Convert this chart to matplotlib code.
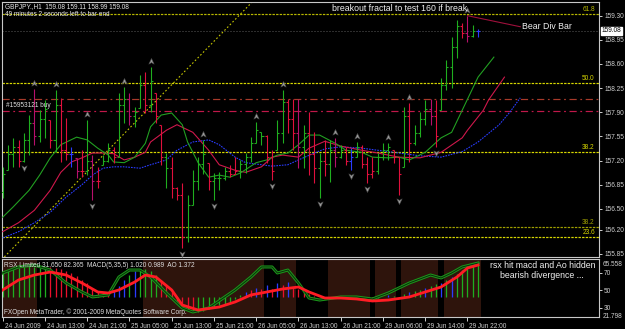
import matplotlib
matplotlib.use('Agg')
import matplotlib.pyplot as plt
from matplotlib.path import Path
import matplotlib.transforms as mtransforms
from matplotlib import font_manager

plt.rcParams['font.family'] = ['Liberation Sans', 'DejaVu Sans']
_names = {f.name for f in font_manager.fontManager.ttflist}
if 'Liberation Sans Narrow' in _names:
    NARROW = ['Liberation Sans Narrow', 'DejaVu Sans']
    SMALL = 5.3
else:
    NARROW = ['Liberation Sans', 'DejaVu Sans']
    SMALL = 4.7

# ---------------- data ----------------
symbol_header = "GBPJPY.,H1  159.08 159.11 158.99 159.08"
timer_text = "49 minutes 2 seconds left to bar end"

first_open = 156.75
highs = [157.11, 157.43, 157.53, 157.50, 157.60, 157.86, 158.24, 157.93, 158.08, 157.79,
         158.22, 158.11, 157.82, 157.40, 157.24, 157.35, 157.79, 157.28, 157.11, 157.28,
         157.45, 157.40, 158.18, 158.27, 158.18, 157.98, 158.44, 158.48, 158.56, 158.18,
         157.72, 157.31, 157.25, 156.82, 156.88, 156.70, 157.06, 157.25, 157.50, 157.16,
         157.02, 157.03, 157.11, 157.14, 157.25, 157.21, 157.31, 157.54, 157.76, 157.61,
         157.57, 157.35, 157.79, 158.22, 158.09, 158.09, 158.09, 157.72, 157.90, 157.61,
         157.31, 157.50, 157.50, 157.53, 157.43, 157.40, 157.38, 157.47, 157.43, 157.25,
         157.25, 157.31, 157.45, 157.45, 157.35, 157.25, 157.98, 158.03, 157.72, 157.90,
         158.08, 158.09, 158.08, 158.40, 158.66, 158.99, 159.24, 159.19, 159.30, 159.16,
         159.11]
lows = [156.66, 157.06, 157.11, 157.11, 157.18, 157.28, 157.43, 157.47, 157.53, 157.38,
        157.32, 157.18, 157.21, 157.11, 156.95, 156.96, 156.99, 156.63, 156.80, 157.14,
        157.18, 157.16, 157.25, 157.75, 157.72, 157.69, 157.96, 157.89, 157.90, 157.75,
        157.14, 156.80, 156.66, 156.63, 155.93, 156.02, 156.56, 156.77, 157.00, 156.77,
        156.63, 156.77, 156.92, 156.96, 157.00, 156.95, 157.02, 157.18, 157.45, 157.43,
        157.16, 156.92, 157.35, 157.45, 157.60, 157.35, 157.09, 157.09, 156.99, 156.88,
        156.66, 156.98, 156.89, 157.11, 157.24, 157.14, 157.06, 157.25, 157.09, 156.88,
        156.95, 157.00, 157.21, 157.21, 157.16, 156.70, 157.11, 157.18, 157.43, 157.54,
        157.72, 157.72, 157.40, 157.93, 158.22, 158.25, 158.69, 158.98, 158.92, 158.99,
        158.99]
closes = [157.00, 157.30, 157.40, 157.20, 157.50, 157.75, 157.55, 157.80, 157.95, 157.50,
          158.00, 157.35, 157.30, 157.30, 157.05, 157.05, 157.20, 156.90, 156.90, 157.20,
          157.35, 157.25, 158.00, 158.10, 157.85, 157.90, 158.30, 158.00, 158.35, 157.85,
          157.25, 157.10, 156.80, 156.70, 156.10, 156.55, 156.90, 157.15, 157.30, 156.90,
          156.95, 156.95, 157.05, 157.00, 157.05, 157.15, 157.25, 157.45, 157.65, 157.55,
          157.25, 157.05, 157.60, 158.05, 157.80, 157.60, 157.40, 157.60, 157.30, 157.10,
          157.20, 157.15, 157.35, 157.25, 157.35, 157.20, 157.25, 157.40, 157.15, 157.00,
          157.05, 157.25, 157.35, 157.40, 157.25, 157.00, 157.85, 157.45, 157.60, 157.80,
          157.95, 157.85, 157.55, 158.30, 158.55, 158.85, 159.15, 159.05, 159.00, 159.08,
          159.08]
bar_codes = list("gggrggmggr" "grrbmrgmrg" "grggmggrgr" "rgrrrggggr" "gggrrggggg"
                 "rrggrrmgrr" "grgmgrbgrr" "rgggrrgrgg" "gmrggggrmg" "b")

# Alligator-like shifted moving averages (bar index, price)
lips_x = [0, 2, 5, 7, 9, 11, 14, 16, 18, 20, 21, 23, 25, 27, 28, 30, 32, 34, 35, 37, 39, 41, 43,
          45, 48, 50, 52, 54, 56, 58, 60, 61, 63, 65, 68, 70, 73, 75, 77, 80, 83, 85, 87, 90, 93]
lips_y = [156.38, 156.53, 156.77, 156.99, 157.24, 157.43, 157.54, 157.50, 157.38, 157.28,
          157.18, 157.17, 157.25, 157.45, 157.69, 157.86, 157.89, 157.72, 157.47, 157.17,
          156.96, 156.99, 156.96, 157.02, 157.17, 157.21, 157.28, 157.31, 157.43, 157.57,
          157.57, 157.53, 157.45, 157.35, 157.32, 157.25, 157.24, 157.25, 157.21, 157.32,
          157.53, 157.61, 157.93, 158.41, 158.70]
teeth_x = [0, 3, 6, 9, 11, 13, 15, 17, 19, 21, 23, 25, 27, 28, 31, 33, 36, 39, 41, 44, 46, 49,
           51, 53, 56, 58, 61, 64, 68, 71, 75, 79, 83, 87, 88, 91, 92, 95]
teeth_y = [156.17, 156.30, 156.48, 156.77, 157.03, 157.18, 157.24, 157.31, 157.31, 157.30,
           157.21, 157.25, 157.32, 157.47, 157.64, 157.72, 157.61, 157.35, 157.14, 157.06,
           157.03, 157.11, 157.25, 157.28, 157.25, 157.38, 157.48, 157.41, 157.35, 157.31,
           157.25, 157.24, 157.32, 157.53, 157.64, 157.93, 158.08, 158.41]
jaw_x = [0, 3, 6, 9, 12, 15, 17, 19, 21, 23, 26, 28, 31, 33, 36, 39, 41, 44, 46, 49, 51, 54,
         56, 59, 61, 64, 68, 73, 79, 83, 87, 90, 94, 96, 98]
jaw_y = [156.08, 156.17, 156.30, 156.45, 156.67, 156.85, 156.99, 157.09, 157.11, 157.11,
         157.09, 157.14, 157.21, 157.35, 157.47, 157.50, 157.43, 157.25, 157.17, 157.14,
         157.12, 157.14, 157.21, 157.31, 157.37, 157.40, 157.38, 157.33, 157.27, 157.25,
         157.33, 157.47, 157.72, 157.90, 158.11]

up_fractals = [6, 10, 16, 23, 28, 38, 48, 53, 63, 67, 73, 77, 88]
down_fractals = [4, 17, 34, 40, 51, 60, 66, 69, 75, 82]

# horizontal levels
fib_levels = [159.32, 158.32, 157.32, 156.24, 156.09]
fib_labels = ["61.8", "50.0", "38.2", "38.2", "23.6"]
fib_colors = ["#b8b800", "#d8d800", "#d8d800", "#a0a000", "#d8d800"]
order_level = 157.92
order_label = "#15953121 buy"
tp_level = 158.09
bid_price = 159.08
trend_p1 = (0, 155.78)
trend_p2 = (47, 159.48)
bear_div_p1 = (88, 159.30)
bear_div_p2 = (98, 159.14)

price_ticks = [159.30, 158.95, 158.60, 158.25, 157.90, 157.55, 157.20, 156.85, 156.50, 156.20, 155.85]

time_tick_bars = [0, 8, 16, 24, 32, 40, 48, 56, 64, 72, 80, 88]
time_tick_labels = ["24 Jun 2009", "24 Jun 13:00", "24 Jun 21:00", "25 Jun 05:00",
                    "25 Jun 13:00", "25 Jun 21:00", "26 Jun 05:00", "26 Jun 13:00",
                    "26 Jun 21:00", "29 Jun 06:00", "29 Jun 14:00", "29 Jun 22:00"]

# indicator window
rsx_x = [0, 3, 6, 9, 12, 15, 18, 20, 22, 25, 27, 29, 32, 34, 37, 41, 44, 47, 50, 53, 56, 58, 61,
         64, 67, 70, 73, 77, 80, 83, 86, 88, 90]
rsx_y = [50.6, 62.0, 67.7, 71.1, 67.7, 58.6, 48.3, 47.1, 50.6, 59.7, 67.7, 65.4, 50.6, 33.4,
         27.7, 31.1, 36.9, 44.9, 48.3, 51.7, 54.0, 48.3, 41.4, 41.4, 40.3, 38.0, 39.1, 42.6,
         48.3, 54.0, 65.4, 75.7, 79.1]
sig_x = [0, 3, 6, 9, 12, 15, 17, 20, 22, 24, 26, 28, 31, 34, 36, 39, 44, 47, 49, 51, 52, 54, 56,
         58, 60, 64, 67, 70, 73, 77, 81, 83, 85, 87, 90]
sig_y = [70.0, 76.9, 79.1, 73.4, 58.6, 48.3, 42.6, 44.9, 65.4, 73.4, 73.4, 65.4, 47.1, 30.0,
         25.4, 30.0, 50.6, 65.4, 76.9, 76.9, 70.0, 73.4, 58.6, 41.4, 39.1, 42.6, 42.6, 40.3,
         47.1, 58.6, 67.7, 64.3, 70.0, 76.9, 81.4]
hist_vals = [70, 72, 75, 76, 77, 78, 77, 76, 74, 77,
             76, 74, 72, 70, 66, 62, 58, 53, 49, 47,
             46, 50, 55, 62, 68, 72, 74, 74, 72, 68,
             62, 55, 48, 38, 33, 28, 25, 25, 27, 29,
             31, 33, 35, 37, 40, 45, 48, 50, 53, 52,
             56, 52, 58, 56, 60, 54, 52, 48, 46, 44,
             42, 40, 41, 43, 42, 44, 42, 44, 43, 41,
             40, 41, 43, 45, 44, 43, 46, 48, 49, 51,
             53, 55, 57, 59, 62, 65, 69, 73, 77, 80,
             82]
hist_codes = list("gggggggggr" "rrrrrrrrrr" "rbbbgbgggg" "rrrrrrrggg" "ggggggbrbr"
                  "brbrbrrrrr" "rrbgggbggr" "rggbgggbgg" "bggbgbgggg" "g")
hist_base = 43
shade_spans = [(0, 6), (27, 49), (53, 55), (62, 69), (71, 74), (76, 82), (84, 90)]
ind_header = "RSX Limited 31.650 82.365  MACD(5,35,5) 1.020 0.989  AO 1.372"
ind_levels = [70, 50, 30]
ind_max_label = "65.558"
ind_min_label = "21.798"
copyright_text = "FXOpen MetaTrader, \u00a9 2001-2009 MetaQuotes Software Corp."
ind_note = "rsx hit macd and Ao hidden\nbearish divergence ..."

# ---------------- figure ----------------
W, H = 625, 329
fig = plt.figure(figsize=(W / 100, H / 100), dpi=100, facecolor='black')

def fx(px):
    return px / W

def fy(py):
    return 1 - py / H

ax = fig.add_axes([fx(2), fy(257), (599 - 2) / W, (257 - 2) / H])
ax2 = fig.add_axes([fx(2), fy(317), (599 - 2) / W, (317 - 259) / H])
for a in (ax, ax2):
    a.set_facecolor('black')
    for s in a.spines.values():
        s.set_color('#c8c8c8')
        s.set_linewidth(0.8)

xlim = (-0.13, 112.9)
ax.set_xlim(*xlim)
ax.set_ylim(155.803, 159.4985)
ax2.set_xlim(*xlim)
ax2.set_ylim(19.7, 86.0)

PX = 0.72  # one pixel in points

bar_col = {'g': '#1fae1f', 'r': '#e0103c', 'm': '#b8106c', 'b': '#2a3cff'}

# horizontal lines
for lvl, lab, c in zip(fib_levels, fib_labels, fib_colors):
    ax.axhline(lvl, color=c, lw=1.2 * PX, ls=(0, (2, 1)), zorder=1)
    ax.text(0.993, lvl + 0.015, lab, transform=ax.get_yaxis_transform(), color=c,
            fontsize=SMALL, family=NARROW, ha='right', va='bottom', zorder=6)
ax.axhline(tp_level, color='#a83a2a', lw=1.2 * PX, ls=(0, (6, 3, 1.5, 3)), zorder=1)
ax.axhline(order_level, color='#c0184a', lw=1.2 * PX, ls=(0, (6, 3, 1.5, 3)), zorder=1)
ax.text(0.6, order_level + 0.035, order_label, color='#e0e0e0', fontsize=SMALL, family=NARROW,
        va='bottom', zorder=6)
ax.axhline(bid_price, color='#5a5a5a', lw=PX, ls=(0, (1, 2)), zorder=1)

# trend line
slope = (trend_p2[1] - trend_p1[1]) / (trend_p2[0] - trend_p1[0])
tx0, tx1 = -2, 52
ax.plot([tx0, tx1], [trend_p1[1] + slope * (tx0 - trend_p1[0]), trend_p1[1] + slope * (tx1 - trend_p1[0])],
        color='#c8c800', lw=1.1 * PX, ls=(0, (1.5, 2)), zorder=2)

# moving averages
ax.plot(jaw_x, jaw_y, color='#2a3cff', lw=1.1 * PX, ls=(0, (1.5, 1)), zorder=3)
ax.plot(teeth_x, teeth_y, color='#d0184c', lw=1.1 * PX, zorder=3)
ax.plot(lips_x, lips_y, color='#22a022', lw=1.1 * PX, zorder=3)

# OHLC bars
n = len(highs)
opens = [first_open] + closes[:-1]
opens[-1] = 159.08
for i in range(n):
    c = bar_col[bar_codes[i]]
    o = min(max(opens[i], lows[i]), highs[i])
    cl = min(max(closes[i], lows[i]), highs[i])
    ax.vlines(i, lows[i], highs[i], color=c, lw=1.1 * PX, zorder=4)
    ax.hlines(o, i - 0.38, i, color=c, lw=1.1 * PX, zorder=4)
    ax.hlines(cl, i, i + 0.38, color=c, lw=1.1 * PX, zorder=4)

# fractal arrows
up_path = Path([(0, 1), (0.9, -0.9), (0, -0.35), (-0.9, -0.9), (0, 1)],
               [Path.MOVETO, Path.LINETO, Path.LINETO, Path.LINETO, Path.CLOSEPOLY])
down_path = Path([(0, -1), (0.9, 0.9), (0, 0.35), (-0.9, 0.9), (0, -1)],
                 [Path.MOVETO, Path.LINETO, Path.LINETO, Path.LINETO, Path.CLOSEPOLY])
ax.scatter(up_fractals, [highs[i] + 0.085 for i in up_fractals], marker=up_path, s=18,
           facecolor='#9a9a9a', edgecolor='#505050', linewidths=0.4, zorder=5)
ax.scatter(down_fractals, [lows[i] - 0.085 for i in down_fractals], marker=down_path, s=18,
           facecolor='#9a9a9a', edgecolor='#505050', linewidths=0.4, zorder=5)

# bear div annotation
ax.plot([bear_div_p1[0], bear_div_p2[0]], [bear_div_p1[1], bear_div_p2[1]], color='#a0103c', lw=1.1 * PX, zorder=5)
ax.text(bear_div_p2[0] + 0.4, bear_div_p2[1], "Bear Div Bar", color='#f0f0f0', fontsize=6.3,
        va='center', ha='left', zorder=6)
ax.text(62.4, 159.40, "breakout fractal to test 160 if break", color='#f0f0f0', fontsize=6.3,
        va='center', ha='left', zorder=6)

# price axis
ax.set_xticks([])
ax.yaxis.tick_right()
ax.set_yticks(price_ticks)
ax.set_yticklabels([f"{p:.2f}" for p in price_ticks], family=NARROW)
ax.tick_params(axis='y', colors='#d0d0d0', labelsize=SMALL, length=2.5, width=0.7, pad=1.2)
ax.text(1.004, bid_price, f"{bid_price:.2f}", transform=ax.get_yaxis_transform(), color='black',
        fontsize=SMALL, family=NARROW, va='center', ha='left', zorder=7,
        bbox=dict(boxstyle='square,pad=0.12', facecolor='white', edgecolor='white'))

# header texts
fig.text(fx(5), fy(6.5), symbol_header, color='#e8e8e8', fontsize=SMALL, family=NARROW, va='center', ha='left')
fig.text(fx(5), fy(14.5), timer_text, color='#e8e8e8', fontsize=SMALL, family=NARROW, va='center', ha='left')

# ---------------- indicator ----------------
for a0, b0 in shade_spans:
    ax2.axvspan(a0 - 0.5, b0 + 0.5, facecolor='#2e140c', edgecolor='none', zorder=0)
hist_col = {'g': '#1fae1f', 'r': '#e8102c', 'b': '#2a3cff'}
for i in range(n):
    ax2.vlines(i, hist_base, hist_vals[i], color=hist_col[hist_codes[i]], lw=1.3 * PX, zorder=2)
ax2.plot(sig_x, sig_y, color='#1a9a1a', lw=3 * PX, zorder=3)
ax2.plot(sig_x, sig_y, color='#0b2a0b', lw=1 * PX, zorder=3)
ax2.plot(rsx_x, rsx_y, color='#ff1c24', lw=2.8 * PX, zorder=4)

ax2.text(0.003, 0.88, ind_header, transform=ax2.transAxes, color='#e0e0e0', fontsize=SMALL,
         family=NARROW, va='center', ha='left', zorder=6)
ax2.text(0.003, 0.09, copyright_text, transform=ax2.transAxes, color='#e0e0e0', fontsize=SMALL,
         family=NARROW, va='center', ha='left', zorder=6)
ax2.text(0.905, 0.80, ind_note, transform=ax2.transAxes,
         color='#f0f0f0', fontsize=6.3, va='center', ha='center', linespacing=1.25, zorder=6)

ax2.yaxis.tick_right()
ax2.set_yticks(ind_levels)
ax2.set_yticklabels([str(v) for v in ind_levels], family=NARROW)
ax2.tick_params(axis='y', colors='#d0d0d0', labelsize=SMALL, length=2.5, width=0.7, pad=1.2)
ax2.text(1.006, 0.90, ind_max_label, transform=ax2.transAxes, color='#d0d0d0', fontsize=SMALL,
         family=NARROW, va='center')
ax2.text(1.006, 0.005, ind_min_label, transform=ax2.transAxes, color='#d0d0d0', fontsize=SMALL,
         family=NARROW, va='center')

ax2.set_xticks(time_tick_bars)
ax2.set_xticklabels(time_tick_labels, family=NARROW)
ax2.tick_params(axis='x', colors='#d0d0d0', labelsize=SMALL, length=3, width=0.7, pad=1)
off = mtransforms.ScaledTranslation(2 / 100, 0, fig.dpi_scale_trans)
for lbl in ax2.get_xticklabels():
    lbl.set_ha('left')
    lbl.set_transform(lbl.get_transform() + off)

fig.savefig('out.png', dpi=100, facecolor='black')
